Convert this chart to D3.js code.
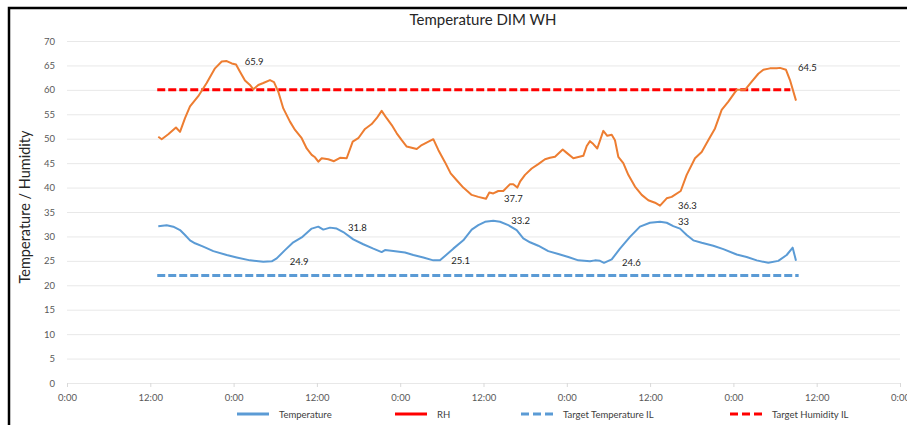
<!DOCTYPE html>
<html>
<head>
<meta charset="utf-8">
<script src="https://cdn.jsdelivr.net/npm/d3@7/dist/d3.min.js"></script>
<style>
  body { margin: 0; background: #fff; }
  text { font-family: Lato, "Liberation Sans", sans-serif; }
</style>
</head>
<body>
<script>
// ======= data (hours since first 0:00) ========

var rhHours = [13.15, 13.64, 14.59, 15.70, 16.28, 17.00, 17.72, 18.91, 20.12, 21.32, 22.29, 23.01, 23.73, 24.35, 24.92,
  25.64, 26.36, 26.84, 27.56, 28.28, 29.24, 29.82, 30.44, 31.16, 32.12, 32.85, 33.81, 34.53, 35.25, 35.73, 36.20,
  36.69, 37.64, 38.46, 39.33, 40.29, 41.16, 41.96, 42.93, 43.89, 44.61, 45.33, 46.05, 46.78, 47.50, 48.22, 48.94,
  50.38, 51.10, 52.77, 53.49, 54.45, 55.27, 56.14, 57.09, 58.30, 59.25, 60.36, 60.84, 61.41, 62.13, 62.85, 63.82,
  64.29, 64.87, 65.26, 65.98, 66.94, 67.89, 68.86, 69.58, 70.30, 71.41, 71.99, 72.94, 74.38, 74.87, 75.34, 75.82,
  76.39, 77.26, 77.83, 78.47, 78.94, 79.42, 80.14, 80.86, 81.82, 82.79, 83.74, 84.71, 85.43, 86.39, 87.11, 88.41,
  89.27, 90.47, 91.43, 92.38, 93.35, 94.31, 95.27, 96.47, 97.67, 98.64, 99.59, 100.31, 101.27, 102.24, 102.71,
  103.58, 104.15, 105.02];
var rhValues = [50.4, 49.9, 50.9, 52.3, 51.4, 54.2, 56.6, 58.7, 61.4, 64.4, 65.8, 65.9, 65.4, 65.2, 63.7,
  61.9, 61.0, 60.1, 61.0, 61.4, 62.0, 61.6, 59.6, 56.2, 53.5, 51.8, 50.1, 48.0, 46.7, 46.2, 45.3,
  46.0, 45.8, 45.4, 46.1, 46.0, 49.4, 50.1, 52.0, 53.0, 54.2, 55.7, 54.2, 52.8, 51.1, 49.7, 48.4,
  47.9, 48.7, 49.9, 47.7, 45.2, 42.9, 41.5, 40.0, 38.5, 38.1, 37.7, 39.0, 38.8, 39.3, 39.3, 40.7,
  40.7, 40.0, 41.2, 42.6, 43.9, 44.8, 45.8, 46.1, 46.3, 47.8, 47.1, 46.0, 46.5, 48.5, 49.5, 48.9,
  48.0, 51.6, 50.6, 50.8, 49.7, 46.3, 45.0, 42.6, 40.2, 38.5, 37.4, 36.9, 36.3, 37.8, 38.1, 39.3,
  42.6, 46.0, 47.3, 49.7, 52.1, 55.9, 57.6, 60.0, 60.0, 61.7, 63.3, 64.1, 64.4, 64.4, 64.5,
  64.1, 62.0, 57.8];

var tempHours = [13.15, 14.36, 15.31, 16.28, 17.00, 17.72, 18.44, 19.63, 21.08, 23.01, 24.45, 26.36, 28.28, 29.49,
  30.21, 31.40, 32.60, 33.81, 35.25, 36.20, 36.92, 37.89, 38.85, 39.80, 41.24, 42.68, 44.13, 45.33, 45.81, 47.01,
  48.69, 49.89, 51.33, 52.77, 53.73, 54.45, 55.65, 57.09, 58.30, 59.25, 60.22, 61.41, 62.38, 63.57, 64.78, 65.73,
  66.70, 67.89, 69.33, 70.78, 72.22, 73.66, 75.34, 76.06, 76.78, 77.36, 78.47, 79.66, 81.10, 82.54, 83.98, 85.43,
  86.39, 87.34, 88.31, 89.27, 90.22, 91.43, 93.10, 94.55, 96.47, 97.91, 99.36, 101.03, 102.47, 103.68, 104.54, 105.02];
var tempValues = [32.1, 32.3, 32.0, 31.3, 30.3, 29.2, 28.6, 27.9, 27.0, 26.2, 25.7, 25.1, 24.8, 24.9,
  25.5, 27.2, 28.8, 29.8, 31.6, 32.0, 31.4, 31.8, 31.6, 30.9, 29.4, 28.4, 27.5, 26.8, 27.2, 27.0,
  26.7, 26.2, 25.7, 25.1, 25.1, 26.0, 27.5, 29.2, 31.4, 32.3, 33.0, 33.2, 33.0, 32.3, 31.3, 29.6,
  28.8, 28.1, 27.0, 26.4, 25.8, 25.1, 24.9, 25.1, 25.0, 24.6, 25.3, 27.5, 29.9, 32.0, 32.8, 33.0,
  32.8, 32.1, 31.6, 30.3, 29.2, 28.7, 28.1, 27.4, 26.3, 25.8, 25.1, 24.6, 25.0, 26.2, 27.7, 25.0];

var targetTempHours = [13.0, 105.4];
var targetRhHours = [13.0, 104.2];
var targetTemperature = 22;
var targetHumidity = 60;

// labelled points: hour, value
var rhLabels = [[23.01, 65.9], [60.36, 37.7], [85.43, 36.3], [102.71, 64.5]];
var tempLabels = [[29.49, 24.9], [37.89, 31.8], [52.77, 25.1], [61.41, 33.2], [77.36, 24.6], [85.43, 33]];

var yTicks = [0, 5, 10, 15, 20, 25, 30, 35, 40, 45, 50, 55, 60, 65, 70];
var xTicks = [0, 12, 24, 36, 48, 60, 72, 84, 96, 108, 120];
var legendNames = ["Temperature", "RH", "Target Temperature IL", "Target Humidity IL"];

// ======= setup ========

var width = 907;
var height = 425;
var plot = {left: 67, right: 900, top: 41, bottom: 383};

var blue = "#5b9bd5", orange = "#ed7d31", red = "#ff0000";

var svg = d3.select("body")
  .append("svg")
    .attr("width", width)
    .attr("height", height);

var x = d3.scaleLinear().domain([0, 120]).range([plot.left, plot.right]);
var y = d3.scaleLinear().domain([0, 70]).range([plot.bottom, plot.top]);

var rh = rhHours.map(function(h, i) { return {h: h, v: rhValues[i]}; });
var temp = tempHours.map(function(h, i) { return {h: h, v: tempValues[i]}; });

// frame
svg.append("path")
    .attr("d", "M9,425V8H907")
    .style("fill", "none")
    .style("stroke", "#000")
    .style("stroke-width", 2.5);

// title
svg.append("text")
    .attr("x", 483).attr("y", 25)
    .attr("text-anchor", "middle")
    .style("font-size", "15px")
    .style("fill", "#262626")
    .text("Temperature DIM WH");

// ======= axes ========

var yAxis = svg.append("g")
    .attr("transform", "translate(" + plot.left + ",0)")
    .call(d3.axisLeft(y).tickValues(yTicks).tickSize(-(plot.right - plot.left)).tickPadding(12));
yAxis.select(".domain").remove();
yAxis.selectAll(".tick line").style("stroke", "#e8e8e8");
yAxis.selectAll(".tick text")
    .style("font-size", "9.5px")
    .style("font-family", "Lato, sans-serif")
    .style("fill", "#595959");

var xAxis = svg.append("g")
    .attr("transform", "translate(0," + plot.bottom + ")")
    .call(d3.axisBottom(x).tickValues(xTicks).tickSize(4).tickPadding(7)
      .tickFormat(function(d) { return (d % 24) + ":00"; }));
xAxis.select(".domain").remove();
xAxis.selectAll(".tick line").style("stroke", "#d9d9d9");
xAxis.selectAll(".tick text")
    .style("font-size", "9.5px")
    .style("font-family", "Lato, sans-serif")
    .style("fill", "#595959");

svg.append("text")
    .attr("transform", "translate(30,207) rotate(-90)")
    .attr("text-anchor", "middle")
    .style("font-size", "14.5px")
    .style("fill", "#262626")
    .text("Temperature / Humidity");

// ======= lines ========

var line = d3.line()
    .x(function(d) { return x(d.h); })
    .y(function(d) { return y(d.v); });

svg.append("path")
    .datum(targetTempHours.map(function(h) { return {h: h, v: targetTemperature}; }))
    .attr("d", line)
    .style("fill", "none").style("stroke", blue)
    .style("stroke-width", 3).style("stroke-dasharray", "8,3");

svg.append("path")
    .datum(targetRhHours.map(function(h) { return {h: h, v: targetHumidity}; }))
    .attr("d", line)
    .style("fill", "none").style("stroke", red)
    .style("stroke-width", 3).style("stroke-dasharray", "8,3");

svg.append("path")
    .datum(temp)
    .attr("d", line)
    .style("fill", "none").style("stroke", blue)
    .style("stroke-width", 2).style("stroke-linejoin", "round");

svg.append("path")
    .datum(rh)
    .attr("d", line)
    .style("fill", "none").style("stroke", orange)
    .style("stroke-width", 2).style("stroke-linejoin", "round");

// ======= data labels ========

svg.selectAll(".dataLabel")
    .data(rhLabels.concat(tempLabels))
  .enter().append("text")
    .attr("class", "dataLabel")
    .attr("x", function(d) { return x(d[0]) + 18; })
    .attr("y", function(d) { return y(d[1]) + 3.5; })
    .style("font-size", "9.5px")
    .style("fill", "#262626")
    .text(function(d) { return d[1]; });

// ======= legend ========

var legendX = [237, 395, 521, 730];
var legendStyle = [
  {color: blue, dash: null},
  {color: red, dash: null},
  {color: blue, dash: "8,4"},
  {color: red, dash: "8,4"}
];

var legend = svg.selectAll(".legend")
    .data(legendNames)
  .enter().append("g")
    .attr("class", "legend")
    .attr("transform", function(d, i) { return "translate(" + legendX[i] + ",414)"; });

legend.append("line")
    .attr("x1", 0).attr("x2", 32)
    .style("stroke", function(d, i) { return legendStyle[i].color; })
    .style("stroke-width", 3)
    .style("stroke-dasharray", function(d, i) { return legendStyle[i].dash; });

legend.append("text")
    .attr("x", 42).attr("y", 3.5)
    .style("font-size", "9.5px")
    .style("fill", "#404040")
    .text(function(d) { return d; });
</script>
</body>
</html>
